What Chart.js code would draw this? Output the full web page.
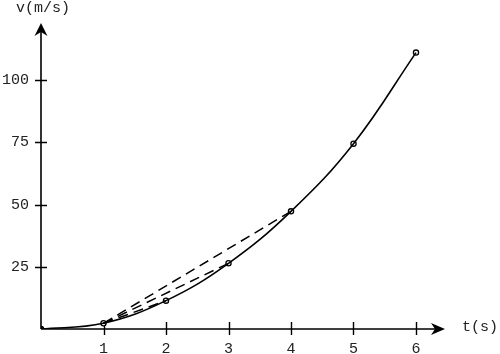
<!DOCTYPE html>
<html>
<head>
<meta charset="utf-8">
<script src="https://cdn.jsdelivr.net/npm/chart.js@4"></script>
<style>
html,body{margin:0;padding:0;background:#fff;}
#wrap{width:500px;height:354px;position:relative;}
</style>
</head>
<body>
<div id="wrap"><canvas id="c" width="500" height="354"></canvas></div>
<script>
const tValues = [0, 1, 2, 3, 4, 5, 6];
const vValues = [0, 2.3, 11.4, 26.4, 47.3, 74.5, 111.1];
const secantEndIdx = [2, 3, 4];
const secantStartIdx = 1;
const xTicks = [1, 2, 3, 4, 5, 6];
const yTicks = [25, 50, 75, 100];
const xTitle = 't(s)';
const yTitle = 'v(m/s)';

const FONT = '"Liberation Mono", "Courier New", monospace';

const pts = tValues.map((t, i) => ({x: t, y: vValues[i]}));

const secantSets = secantEndIdx.map(k => ({
  type: 'line',
  data: [pts[secantStartIdx], pts[k]],
  borderColor: '#000',
  borderWidth: 1.5,
  borderDash: [10, 6],
  pointRadius: 0,
  fill: false,
  tension: 0
}));

const axesPlugin = {
  id: 'axesPlugin',
  beforeDatasetsDraw(chart) {
    const ctx = chart.ctx;
    const xs = chart.scales.x, ys = chart.scales.y;
    const x0 = xs.getPixelForValue(0), y0 = ys.getPixelForValue(0);
    const xEnd = chart.chartArea.right, yEnd = chart.chartArea.top;
    ctx.save();
    ctx.strokeStyle = '#000';
    ctx.fillStyle = '#000';
    ctx.lineWidth = 1.6;
    ctx.beginPath();
    ctx.moveTo(x0, y0); ctx.lineTo(xEnd - 6, y0);
    ctx.moveTo(x0, y0); ctx.lineTo(x0, yEnd + 6);
    ctx.stroke();
    ctx.beginPath();
    ctx.moveTo(xEnd, y0);
    ctx.lineTo(xEnd - 14, y0 - 6);
    ctx.lineTo(xEnd - 10, y0);
    ctx.lineTo(xEnd - 14, y0 + 6);
    ctx.closePath();
    ctx.fill();
    ctx.beginPath();
    ctx.moveTo(x0, yEnd);
    ctx.lineTo(x0 - 6.5, yEnd + 13);
    ctx.lineTo(x0, yEnd + 9);
    ctx.lineTo(x0 + 6.5, yEnd + 13);
    ctx.closePath();
    ctx.fill();
    ctx.lineWidth = 1.4;
    ctx.beginPath();
    xTicks.forEach(v => {
      const p = Math.round(xs.getPixelForValue(v)) + 0.5;
      ctx.moveTo(p, y0 - 7); ctx.lineTo(p, y0 + 6);
    });
    yTicks.forEach(v => {
      const p = Math.round(ys.getPixelForValue(v)) + 0.5;
      ctx.moveTo(x0 - 6, p); ctx.lineTo(x0 + 6, p);
    });
    ctx.stroke();
    ctx.font = '15px ' + FONT;
    ctx.textBaseline = 'middle';
    ctx.textAlign = 'left';
    ctx.fillStyle = '#222';
    ctx.fillText(yTitle, 16, 8);
    ctx.fillText(xTitle, 462, 327);
    ctx.restore();
  }
};

new Chart(document.getElementById('c'), {
  type: 'line',
  data: {
    datasets: [
      {
        type: 'line',
        data: pts,
        borderColor: '#000',
        borderWidth: 1.6,
        tension: 0.4,
        pointRadius: 0,
        fill: false
      },
      ...secantSets,
      {
        type: 'scatter',
        data: pts,
        showLine: false,
        pointRadius: 2.6,
        borderWidth: 1.3,
        pointBorderColor: '#000',
        pointBackgroundColor: tValues.map((t, i) => i === 0 ? '#000' : '#fff')
      }
    ]
  },
  options: {
    responsive: false,
    animation: false,
    devicePixelRatio: 1,
    layout: {padding: {top: 23, right: 55, left: 0, bottom: 0}},
    plugins: {legend: {display: false}, tooltip: {enabled: false}, title: {display: false}},
    scales: {
      x: {
        type: 'linear', min: 0, max: 6.464,
        grid: {display: false, drawTicks: false},
        border: {display: false},
        afterBuildTicks: s => { s.ticks = xTicks.map(v => ({value: v})); },
        afterFit: s => { s.height = 25; },
        ticks: {color: '#222', font: {family: FONT, size: 15}, padding: 11, maxRotation: 0}
      },
      y: {
        type: 'linear', min: 0, max: 123,
        grid: {display: false, drawTicks: false},
        border: {display: false},
        afterBuildTicks: s => { s.ticks = yTicks.map(v => ({value: v})); },
        afterFit: s => { s.width = 41; },
        ticks: {color: '#222', font: {family: FONT, size: 15}, padding: 12}
      }
    }
  },
  plugins: [axesPlugin]
});
</script>
</body>
</html>
